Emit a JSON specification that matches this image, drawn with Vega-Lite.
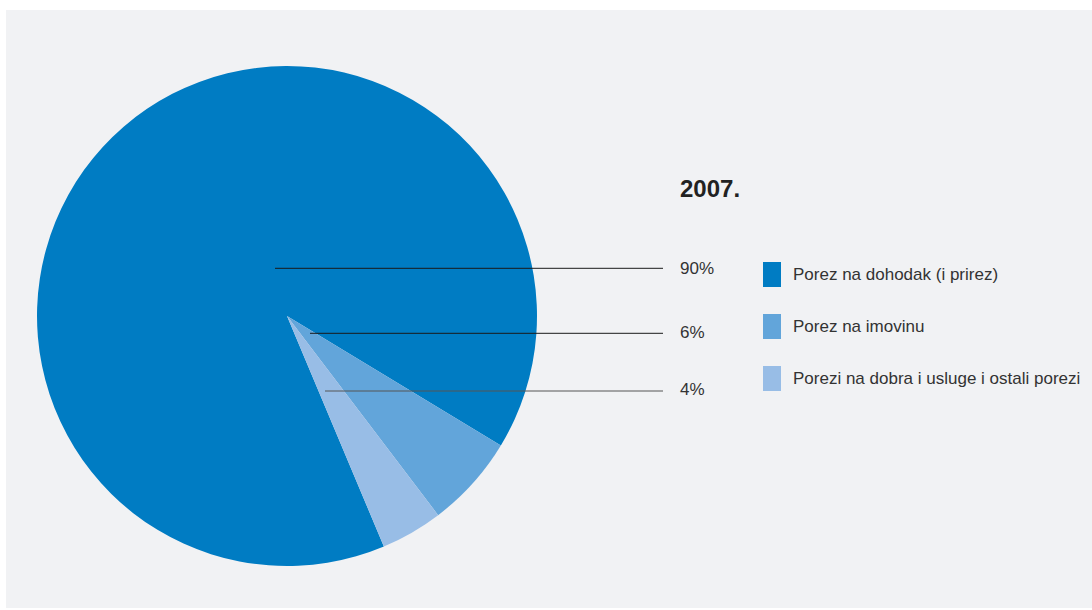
{
  "$schema": "https://vega.github.io/schema/vega-lite/v6.json",
  "width": 1086,
  "height": 598,
  "autosize": {"type": "none"},
  "padding": {"left": 6, "top": 10, "right": 0, "bottom": 2},
  "background": "#ffffff",
  "config": {
    "view": {"fill": "#f1f2f4", "stroke": null},
    "font": "Liberation Sans"
  },
  "data": {
    "values": [
      {"kategorija": "Porez na dohodak (i prirez)", "udio": 90, "redoslijed": 1, "oznaka": "90%"},
      {"kategorija": "Porez na imovinu", "udio": 6, "redoslijed": 2, "oznaka": "6%"},
      {"kategorija": "Porezi na dobra i usluge i ostali porezi", "udio": 4, "redoslijed": 3, "oznaka": "4%"}
    ]
  },
  "layer": [
    {
      "mark": {"type": "arc", "radius": 250, "strokeWidth": 0},
      "encoding": {
        "theta": {"field": "udio", "type": "quantitative", "stack": true, "scale": {"range": [2.7437, 9.0269]}},
        "order": {"field": "redoslijed", "type": "quantitative"},
        "color": {
          "field": "kategorija",
          "type": "nominal",
          "scale": {
            "domain": ["Porez na dohodak (i prirez)", "Porez na imovinu", "Porezi na dobra i usluge i ostali porezi"],
            "range": ["#007cc3", "#62a5da", "#98bde6"]
          },
          "legend": {
            "title": null,
            "orient": "none",
            "legendX": 753.5,
            "legendY": 252,
            "padding": 0,
            "symbolType": "M-0.72,-1H0.72V1H-0.72Z",
            "symbolSize": 625,
            "symbolStrokeWidth": 0,
            "symbolOpacity": 1,
            "labelFont": "Liberation Sans",
            "labelFontSize": 17,
            "labelColor": "#333333",
            "labelOffset": 8.5,
            "labelLimit": 400,
            "rowPadding": 27
          }
        },
        "x": {"datum": 281, "type": "quantitative", "scale": {"domain": [0, 1086], "nice": false, "zero": false}, "axis": null},
        "y": {"datum": 306, "type": "quantitative", "scale": {"domain": [598, 0], "nice": false, "zero": false}, "axis": null}
      }
    },
    {
      "transform": [{"filter": "datum.redoslijed == 1"}],
      "layer": [
        {
          "mark": {"type": "rule", "color": "#1a1a1a", "strokeWidth": 1},
          "encoding": {"x": {"datum": 269, "type": "quantitative"}, "x2": {"datum": 657}, "y": {"datum": 258.3, "type": "quantitative"}}
        },
        {
          "mark": {"type": "text", "align": "left", "baseline": "middle", "fontSize": 17, "color": "#333333"},
          "encoding": {"x": {"datum": 674, "type": "quantitative"}, "y": {"datum": 259, "type": "quantitative"}, "text": {"field": "oznaka"}}
        },
        {
          "mark": {"type": "text", "text": "2007.", "align": "left", "baseline": "middle", "fontSize": 24, "fontWeight": "bold", "color": "#222222"},
          "encoding": {"x": {"datum": 674, "type": "quantitative"}, "y": {"datum": 180, "type": "quantitative"}}
        }
      ]
    },
    {
      "transform": [{"filter": "datum.redoslijed == 2"}],
      "layer": [
        {
          "mark": {"type": "rule", "color": "#1a1a1a", "strokeWidth": 1},
          "encoding": {"x": {"datum": 304, "type": "quantitative"}, "x2": {"datum": 657}, "y": {"datum": 323.3, "type": "quantitative"}}
        },
        {
          "mark": {"type": "text", "align": "left", "baseline": "middle", "fontSize": 17, "color": "#333333"},
          "encoding": {"x": {"datum": 674, "type": "quantitative"}, "y": {"datum": 323, "type": "quantitative"}, "text": {"field": "oznaka"}}
        }
      ]
    },
    {
      "transform": [{"filter": "datum.redoslijed == 3"}],
      "layer": [
        {
          "mark": {"type": "rule", "color": "#555555", "strokeWidth": 1},
          "encoding": {"x": {"datum": 319, "type": "quantitative"}, "x2": {"datum": 657}, "y": {"datum": 381, "type": "quantitative"}}
        },
        {
          "mark": {"type": "text", "align": "left", "baseline": "middle", "fontSize": 17, "color": "#333333"},
          "encoding": {"x": {"datum": 674, "type": "quantitative"}, "y": {"datum": 380, "type": "quantitative"}, "text": {"field": "oznaka"}}
        }
      ]
    }
  ]
}
